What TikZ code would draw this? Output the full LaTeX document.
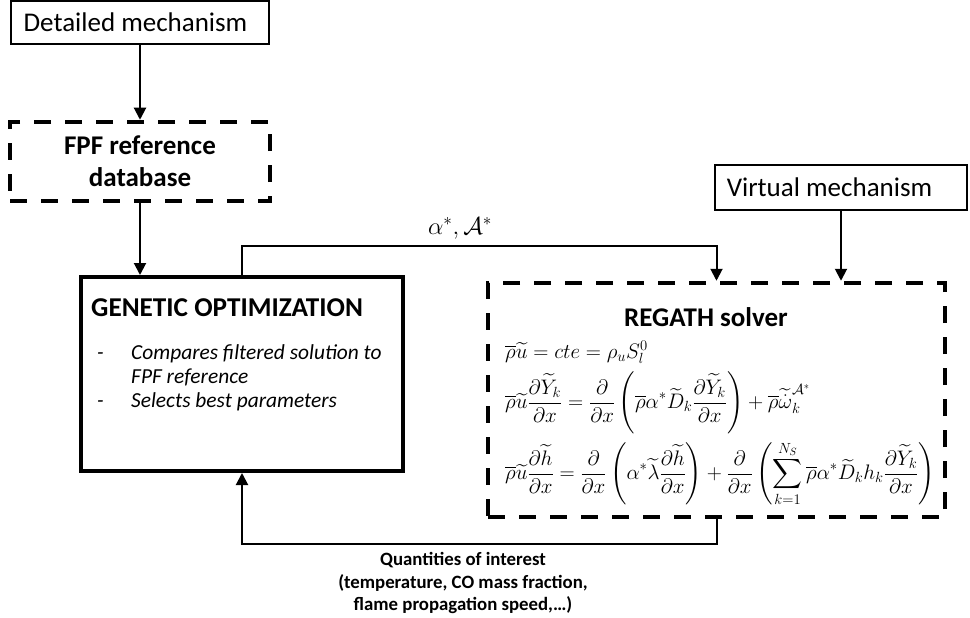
\RequirePackage{fix-cm}
\documentclass[tikz,border=0pt]{standalone}
\usepackage{amsmath}
\usepackage{fontspec}
\setmainfont{Carlito}
\usetikzlibrary{arrows.meta}

\tikzset{
  solidbox/.style={draw, line width=2pt, inner sep=0pt},
  thickbox/.style={draw, line width=4pt, inner sep=0pt},
  dashbox/.style={draw, line width=4.5pt, dash pattern=on 17pt off 14pt, inner sep=0pt},
  flow/.style={line width=2pt, -{Triangle[width=12pt,length=12pt]}},
  eqn/.style={anchor=base west, inner sep=0pt, font=\fontsize{21}{25}\selectfont},
}

\begin{document}
\begin{tikzpicture}[x=1pt,y=-1pt]
\useasboundingbox (0,0) rectangle (970,618);
% mechanisms and reference data
\node[solidbox, minimum width=258pt, minimum height=43pt,
  font=\fontsize{27}{30}\selectfont] (detailed) at (140,22.5) {Detailed mechanism\hspace*{9pt}};
\node[dashbox, minimum width=260pt, minimum height=79pt, align=center,
  font=\bfseries\fontsize{27}{32}\selectfont] (fpf) at (140,161.5) {FPF reference\\database};
\node[solidbox, minimum width=252pt, minimum height=45pt,
  font=\fontsize{27}{30}\selectfont] (virtual) at (841,187.5) {Virtual mechanism\hspace*{23pt}};

% A) optimizer
\node[thickbox, minimum width=322pt, minimum height=194pt] (genetic) at (242,374) {};
\node[anchor=base west, inner sep=0pt, font=\bfseries\fontsize{27.2}{30}\selectfont] (gentitle) at (91,316) {GENETIC OPTIMIZATION};
\node[anchor=base west, inner sep=0pt, font=\itshape\fontsize{21.4}{24}\selectfont] (genlist) at (97,359)
  {\begin{tabular}[t]{@{}p{34pt}@{}l@{}}
   - & Compares filtered solution to\\
     & FPF reference\\
   - & Selects best parameters
   \end{tabular}};

% B) solver
\node[dashbox, minimum width=457pt, minimum height=234pt] (regath) at (716.5,400) {};
\node[anchor=base, inner sep=0pt, font=\bfseries\fontsize{27}{30}\selectfont] (regtitle) at (706,326) {REGATH solver};
\node[eqn] (eqmass) at (505,358) {$\overline{\rho}\widetilde{u}=cte=\rho_u S_l^0$};
\node[eqn] (eqspec) at (505,408.5) {$\displaystyle \overline{\rho}\widetilde{u}\frac{\partial\widetilde{Y}_k}{\partial x}
  =\frac{\partial}{\partial x}\left(\overline{\rho}\alpha^*\widetilde{D}_k\frac{\partial\widetilde{Y}_k}{\partial x}\right)
  +\overline{\rho}\widetilde{\dot{\omega}}_k^{\mathcal{A}^*}$};
\node[eqn] (eqenth) at (505,479.5) {$\displaystyle \overline{\rho}\widetilde{u}\frac{\partial\widetilde{h}}{\partial x}
  =\frac{\partial}{\partial x}\left(\alpha^*\widetilde{\lambda}\frac{\partial\widetilde{h}}{\partial x}\right)
  +\frac{\partial}{\partial x}\left(\sum_{k=1}^{N_S}\overline{\rho}\alpha^*\widetilde{D}_k h_k\frac{\partial\widetilde{Y}_k}{\partial x}\right)$};

% connectors
\draw[flow] (detailed.south) -- (fpf.north);
\draw[flow] (fpf.south) -- (fpf.south |- genetic.north);
\draw[flow] (genetic.north) -- ++(0,-29) -| (regath.north);
\node[inner sep=0pt, font=\fontsize{24.5}{28}\selectfont] (params) at (460,228) {$\alpha^*,\mathcal{A}^*$};
\draw[flow] (virtual.south) -- (virtual.south |- regath.north);
\draw[flow] (regath.south) -- ++(0,25) -| (genetic.south);
\node[align=center, inner sep=0pt, font=\bfseries\fontsize{18.8}{22.5}\selectfont] (qoi) at (463,583)
  {Quantities of interest\\(temperature, CO mass fraction,\\flame propagation speed,…)};
\end{tikzpicture}
\end{document}
